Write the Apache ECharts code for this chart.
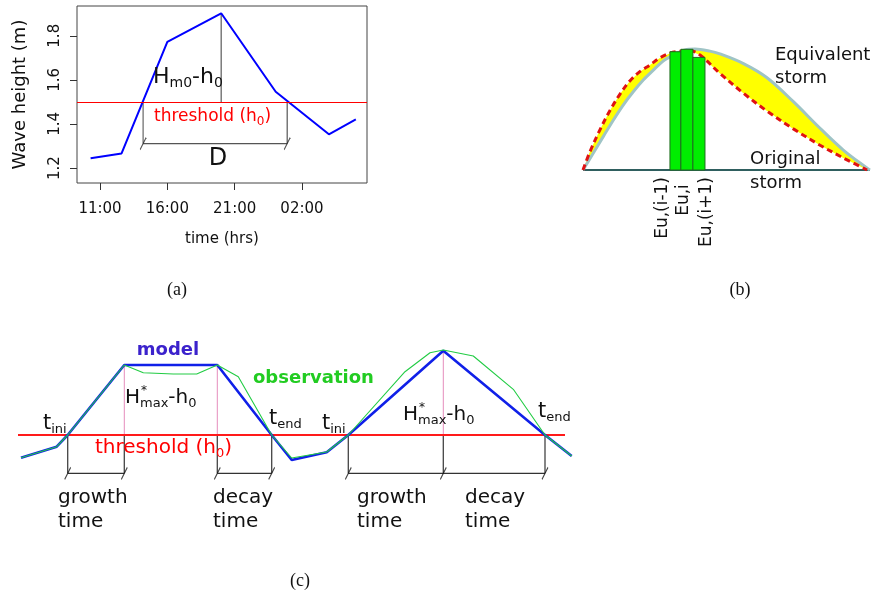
<!DOCTYPE html>
<html>
<head>
<meta charset="utf-8">
<script src="https://cdn.jsdelivr.net/npm/echarts@6/dist/echarts.min.js"></script>
<style>
html, body { margin: 0; padding: 0; background: #fff; }
#fig { width: 879px; height: 598px; }
</style>
</head>
<body>
<div id="fig"></div>
<script>
// ---- panel (a): recorded wave height
const timeHrs = [10.3, 12.6, 16.0, 20.0, 24.05, 28.0, 30.0];
const waveHeight = [1.244, 1.266, 1.772, 1.902, 1.546, 1.353, 1.421];
const timeTicks = [11, 16, 21, 26];
const heightTicks = [1.2, 1.4, 1.6, 1.8];
const thresholdA = 1.5;
const upCrossA = 14.2;
const downCrossA = 24.9;
const peakTimeA = 20.0;
const dLevelA = 1.311;

// ---- panel (b): equivalent vs original storm
const equivX = [0, 0.036, 0.071, 0.106, 0.140, 0.175, 0.210, 0.245, 0.280, 0.303, 0.355, 0.390, 0.442, 0.477, 0.559, 0.640, 0.733, 0.826, 0.907, 0.988, 1.0];
const equivY = [0, 0.140, 0.278, 0.414, 0.537, 0.647, 0.744, 0.826, 0.903, 0.936, 0.992, 1.0, 0.983, 0.960, 0.880, 0.765, 0.565, 0.345, 0.165, 0.018, 0];
const origX = [0, 0.024, 0.059, 0.094, 0.129, 0.164, 0.199, 0.233, 0.268, 0.303, 0.338, 0.373, 0.408, 0.477, 0.559, 0.640, 0.733, 0.826, 0.907, 0.99];
const origY = [0, 0.150, 0.332, 0.492, 0.628, 0.739, 0.815, 0.868, 0.927, 0.966, 0.982, 0.986, 0.951, 0.799, 0.635, 0.489, 0.340, 0.205, 0.100, 0];
const barLeft = [0.303, 0.341, 0.383];
const barRight = [0.341, 0.383, 0.425];
const barTop = [0.978, 0.998, 0.931];
const barLabels = ['Eu,(i-1)', 'Eu,i', 'Eu,(i+1)'];

// ---- panel (c): model vs observation
const modelT = [0.3, 3.87, 4.97, 10.63, 19.93, 25.37, 27.37, 30.87, 33.03, 42.53, 52.7, 55.37];
const modelH = [1.273, 1.383, 1.5, 2.2, 2.2, 1.5, 1.25, 1.327, 1.5, 2.343, 1.5, 1.29];
const obsT = [0.3, 3.87, 4.97, 10.63, 12.53, 15.53, 17.87, 19.93, 22.03, 25.37, 27.37, 30.87, 33.03, 38.7, 41.2, 42.53, 45.53, 49.53, 52.7, 55.37];
const obsH = [1.273, 1.383, 1.5, 2.2, 2.123, 2.11, 2.11, 2.2, 2.083, 1.5, 1.27, 1.33, 1.5, 2.133, 2.323, 2.35, 2.29, 1.957, 1.5, 1.29];
const thresholdC = 1.5;
const thresholdEndC = 54.7;
const eventT = [4.97, 10.63, 19.93, 25.37, 33.03, 42.53, 52.7];
const peakT = [10.63, 19.93, 42.53];
const peakH = [2.2, 2.2, 2.343];
const spans = [[4.97, 10.63], [19.93, 25.37], [33.03, 52.7]];
const dLevelC = 1.117;

const FONT = 'DejaVu Sans';
const zip = (xs, ys) => xs.map((x, i) => [x, ys[i]]);

function seg(idx, data, color, width, z) {
    return {
        type: 'line', xAxisIndex: idx, yAxisIndex: idx, data: data,
        symbol: 'none', silent: true, z: z || 2,
        lineStyle: { color: color, width: width }
    };
}
function slashes(idx, pts, color) {
    return {
        type: 'scatter', xAxisIndex: idx, yAxisIndex: idx, data: pts,
        symbol: 'path://M0,12L6,0', symbolSize: [6, 12], silent: true, z: 6,
        itemStyle: { color: 'none', borderColor: color, borderWidth: 1.2 }
    };
}
// text helper, rich token s = subscript
function txt(x, y, text, size, opts) {
    const o = opts || {};
    const fill = o.fill || '#111';
    const sub = o.sub || Math.round(size * 0.65);
    return {
        type: 'text', x: x, y: y, rotation: o.rotation || 0, silent: true, z: 100,
        style: {
            text: text, fill: fill, fontSize: size, fontFamily: o.family || FONT,
            fontWeight: o.weight || 'normal',
            align: o.align || 'left', verticalAlign: o.valign || 'middle',
            lineHeight: size + 4,
            rich: {
                s: { fontSize: sub, fontFamily: FONT, fill: fill, lineHeight: sub, verticalAlign: 'bottom' }
            }
        }
    };
}

const chart = echarts.init(document.getElementById('fig'));

const hiddenAxis = (grid, min, max) => ({ type: 'value', gridIndex: grid, min: min, max: max, show: false });

const series = [];

// panel (a)
series.push({
    type: 'line', xAxisIndex: 0, yAxisIndex: 0, data: zip(timeHrs, waveHeight),
    symbol: 'none', silent: true, z: 4,
    lineStyle: { color: '#0000ff', width: 2 },
    markLine: {
        silent: true, symbol: 'none', label: { show: false },
        lineStyle: { color: '#ff0000', width: 1, type: 'solid' },
        data: [{ yAxis: thresholdA }]
    }
});
series.push(seg(0, [[peakTimeA, thresholdA], [peakTimeA, Math.max(...waveHeight)]], '#666', 1.3));
series.push(seg(0, [[upCrossA, thresholdA], [upCrossA, dLevelA]], '#666', 1.2));
series.push(seg(0, [[downCrossA, thresholdA], [downCrossA, dLevelA]], '#333', 1));
series.push(seg(0, [[upCrossA, dLevelA], [downCrossA, dLevelA]], '#555', 1.3));
series.push(slashes(0, [[upCrossA, dLevelA], [downCrossA, dLevelA]], '#222'));

// panel (b)
const equivPts = zip(equivX, equivY);
const origPts = zip(origX, origY);
series.push({
    type: 'custom', xAxisIndex: 1, yAxisIndex: 1, silent: true, z: 1,
    data: [0],
    renderItem: function (params, api) {
        const pts = origPts.concat(equivPts.slice().reverse()).map(p => api.coord(p));
        return { type: 'polygon', shape: { points: pts }, style: { fill: '#ffff00' } };
    }
});
series.push(seg(1, [[0, 0], [1, 0]], '#2f5f5f', 2, 2));
series.push({
    type: 'line', xAxisIndex: 1, yAxisIndex: 1, data: equivPts, smooth: 0.35,
    symbol: 'none', silent: true, z: 3,
    lineStyle: { color: '#9fc4c6', width: 3 }
});
series.push({
    type: 'line', xAxisIndex: 1, yAxisIndex: 1, data: origPts, smooth: 0.35,
    symbol: 'none', silent: true, z: 4,
    lineStyle: { color: '#e01212', width: 3, type: [6, 4] }
});
series.push({
    type: 'custom', xAxisIndex: 1, yAxisIndex: 1, silent: true, z: 5,
    data: barLeft.map((l, i) => [l, barRight[i], barTop[i]]),
    renderItem: function (params, api) {
        const p0 = api.coord([api.value(0), api.value(2)]);
        const p1 = api.coord([api.value(1), 0]);
        return {
            type: 'rect',
            shape: { x: p0[0], y: p0[1], width: p1[0] - p0[0], height: p1[1] - p0[1] },
            style: { fill: '#00ee00', stroke: '#1f6b1f', lineWidth: 1 }
        };
    }
});

// panel (c)
series.push(seg(2, [[0, thresholdC], [thresholdEndC, thresholdC]], '#ff1a1a', 2, 2));
peakT.forEach((t, i) => series.push(seg(2, [[t, thresholdC], [t, peakH[i]]], '#e58cbc', 1, 1)));
eventT.forEach(t => series.push(seg(2, [[t, thresholdC], [t, dLevelC]], '#444', 1.3, 1)));
spans.forEach(s => series.push(seg(2, [[s[0], dLevelC], [s[1], dLevelC]], '#333', 1.3, 1)));
series.push(slashes(2, eventT.map(t => [t, dLevelC]), '#111'));
series.push(seg(2, zip(modelT, modelH), '#1020e8', 2.6, 4));
series.push(seg(2, zip(obsT, obsH), '#22cc44', 1.1, 5));

const graphic = [
    // panel (a)
    txt(153, 77, 'H{s|m0}-h{s|0}', 22, { sub: 14 }),
    txt(154, 117, 'threshold (h{s|0})', 17, { fill: '#ff0000', sub: 12 }),
    txt(218, 159, 'D', 24, { align: 'center' }),
    // panel (b)
    txt(775, 55, 'Equivalent', 18),
    txt(775, 78, 'storm', 18),
    txt(750, 159, 'Original', 18),
    txt(750, 183, 'storm', 18),
    txt(663, 177, barLabels[0], 17, { rotation: Math.PI / 2, align: 'right' }),
    txt(684, 200, barLabels[1], 17, { rotation: Math.PI / 2, align: 'center' }),
    txt(707, 177, barLabels[2], 17, { rotation: Math.PI / 2, align: 'right' }),
    // panel (c)
    txt(168, 350, 'model', 18, { align: 'center', weight: 'bold', fill: '#3b22cc' }),
    txt(253, 378, 'observation', 18, { weight: 'bold', fill: '#22cc22' }),
    txt(43, 424, 't{s|ini}', 21, { sub: 13 }),
    txt(125, 398, 'H{s|max}-h{s|0}', 20, { sub: 13 }),
    txt(141, 391, '*', 12),
    txt(95, 448, 'threshold (h{s|0})', 20, { fill: '#ff0000', sub: 13 }),
    txt(269, 419, 't{s|end}', 21, { sub: 13 }),
    txt(322, 424, 't{s|ini}', 21, { sub: 13 }),
    txt(403, 415, 'H{s|max}-h{s|0}', 20, { sub: 13 }),
    txt(419, 408, '*', 12),
    txt(538, 412, 't{s|end}', 21, { sub: 13 }),
    txt(58, 498, 'growth', 20), txt(58, 522, 'time', 20),
    txt(213, 498, 'decay', 20), txt(213, 522, 'time', 20),
    txt(357, 498, 'growth', 20), txt(357, 522, 'time', 20),
    txt(465, 498, 'decay', 20), txt(465, 522, 'time', 20),
    // captions
    txt(177, 290, '(a)', 18, { align: 'center', family: 'Liberation Serif' }),
    txt(740, 290, '(b)', 18, { align: 'center', family: 'Liberation Serif' }),
    txt(300, 581, '(c)', 18, { align: 'center', family: 'Liberation Serif' })
];

const option = {
    animation: false,
    backgroundColor: '#fff',
    grid: [
        { left: 77, top: 6, width: 290, height: 177, show: true, borderColor: '#444', borderWidth: 1, backgroundColor: 'transparent' },
        { left: 583, top: 40, width: 287, height: 130 },
        { left: 18, top: 330, width: 560, height: 160 }
    ],
    xAxis: [
        {
            type: 'value', gridIndex: 0, min: 9.29, max: 30.83,
            name: 'time (hrs)', nameLocation: 'middle', nameGap: 49,
            nameTextStyle: { fontFamily: FONT, fontSize: 15, color: '#111' },
            axisLine: { show: false },
            axisTick: { show: true, length: 7, customValues: timeTicks, lineStyle: { color: '#333' } },
            axisLabel: {
                customValues: timeTicks, margin: 19, fontFamily: FONT, fontSize: 15, color: '#111',
                formatter: v => String(v % 24).padStart(2, '0') + ':00'
            },
            splitLine: { show: false }
        },
        hiddenAxis(1, 0, 1),
        hiddenAxis(2, 0, 56)
    ],
    yAxis: [
        {
            type: 'value', gridIndex: 0, min: 1.132, max: 1.935,
            name: 'Wave height (m)', nameLocation: 'middle', nameGap: 48,
            nameTextStyle: { fontFamily: FONT, fontSize: 18, color: '#111' },
            axisLine: { show: false },
            axisTick: { show: true, length: 7, customValues: heightTicks, lineStyle: { color: '#333' } },
            axisLabel: {
                customValues: heightTicks, rotate: 90, margin: 14, fontFamily: FONT, fontSize: 15, color: '#111',
                formatter: v => v.toFixed(1)
            },
            splitLine: { show: false }
        },
        hiddenAxis(1, 0, 1.075),
        hiddenAxis(2, 0.95, 2.55)
    ],
    series: series,
    graphic: graphic
};

chart.setOption(option);
window.addEventListener('resize', () => chart.resize());
</script>
</body>
</html>
